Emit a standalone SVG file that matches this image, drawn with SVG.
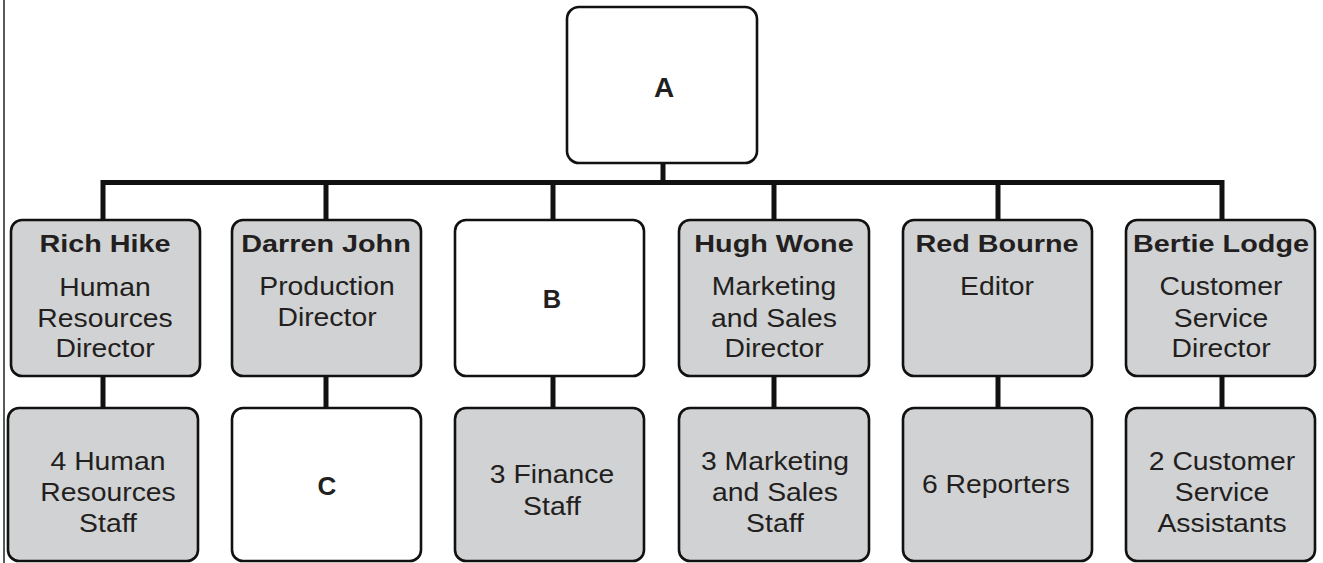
<svg xmlns="http://www.w3.org/2000/svg" width="1323" height="563" viewBox="0 0 1323 563">
<style>
.box{stroke:#111;stroke-width:2.6;}
.g{fill:#d1d2d3;}
.w{fill:#fff;}
.conn{stroke:#111;stroke-width:5;fill:none;}
text{font-family:"Liberation Sans",Arial,sans-serif;fill:#231f20;text-anchor:middle;}
.b{font-weight:bold;font-size:24px;}
.r{font-size:26px;}
</style>
<rect x="0" y="0" width="1323" height="563" fill="#fff"/>
<line x1="4" y1="0" x2="4" y2="563" stroke="#222" stroke-width="1.5"/>
<g id="connectors">
<line class="conn" x1="663" y1="163" x2="663" y2="182.5"/>
<polyline class="conn" points="103,220 103,182.5 1222,182.5 1222,220"/>
<line class="conn" x1="326" y1="182.5" x2="326" y2="220"/>
<line class="conn" x1="553" y1="182.5" x2="553" y2="220"/>
<line class="conn" x1="774" y1="182.5" x2="774" y2="220"/>
<line class="conn" x1="998" y1="182.5" x2="998" y2="220"/>
<line class="conn" x1="103" y1="376" x2="103" y2="408"/>
<line class="conn" x1="326" y1="376" x2="326" y2="408"/>
<line class="conn" x1="553" y1="376" x2="553" y2="408"/>
<line class="conn" x1="774" y1="376" x2="774" y2="408"/>
<line class="conn" x1="998" y1="376" x2="998" y2="408"/>
<line class="conn" x1="1222" y1="376" x2="1222" y2="408"/>
</g>
<g id="nodeA">
<rect class="box w" x="567" y="7" width="190" height="156" rx="12"/>
<text class="b" x="664" y="97" style="font-size:28px">A</text>
</g>
<g id="richHike">
<rect class="box g" x="11" y="220" width="189" height="156" rx="11"/>
<g transform="translate(105,0) scale(1.2,1)"><text class="b" x="0" y="252">Rich Hike</text></g>
<g transform="translate(105,0) scale(1.09,1)">
<text class="r" x="0" y="296">Human</text>
<text class="r" x="0" y="327">Resources</text>
<text class="r" x="0" y="357">Director</text>
</g>
</g>
<g id="darrenJohn">
<rect class="box g" x="232" y="220" width="189" height="156" rx="11"/>
<g transform="translate(326,0) scale(1.2,1)"><text class="b" x="0" y="252">Darren John</text></g>
<g transform="translate(327,0) scale(1.09,1)">
<text class="r" x="0" y="295">Production</text>
<text class="r" x="0" y="326">Director</text>
</g>
</g>
<g id="nodeB">
<rect class="box w" x="455" y="220" width="189" height="156" rx="11"/>
<text class="b" x="552" y="308" style="font-size:25.5px">B</text>
</g>
<g id="hughWone">
<rect class="box g" x="679" y="220" width="190" height="156" rx="11"/>
<g transform="translate(774,0) scale(1.2,1)"><text class="b" x="0" y="252">Hugh Wone</text></g>
<g transform="translate(774,0) scale(1.09,1)">
<text class="r" x="0" y="295">Marketing</text>
<text class="r" x="0" y="327">and Sales</text>
<text class="r" x="0" y="357">Director</text>
</g>
</g>
<g id="redBourne">
<rect class="box g" x="903" y="220" width="189" height="156" rx="11"/>
<g transform="translate(997,0) scale(1.2,1)"><text class="b" x="0" y="252">Red Bourne</text></g>
<g transform="translate(997,0) scale(1.09,1)"><text class="r" x="0" y="295">Editor</text></g>
</g>
<g id="bertieLodge">
<rect class="box g" x="1126" y="220" width="189" height="156" rx="11"/>
<g transform="translate(1221,0) scale(1.2,1)"><text class="b" x="0" y="252">Bertie Lodge</text></g>
<g transform="translate(1221,0) scale(1.09,1)">
<text class="r" x="0" y="295">Customer</text>
<text class="r" x="0" y="327">Service</text>
<text class="r" x="0" y="357">Director</text>
</g>
</g>
<g id="hrStaff">
<rect class="box g" x="8" y="408" width="190" height="153" rx="11"/>
<g transform="translate(108,0) scale(1.09,1)">
<text class="r" x="0" y="470">4 Human</text>
<text class="r" x="0" y="501">Resources</text>
<text class="r" x="0" y="532">Staff</text>
</g>
</g>
<g id="nodeC">
<rect class="box w" x="232" y="408" width="189" height="153" rx="11"/>
<text class="b" x="327" y="495" style="font-size:26px">C</text>
</g>
<g id="financeStaff">
<rect class="box g" x="455" y="408" width="189" height="153" rx="11"/>
<g transform="translate(552,0) scale(1.09,1)">
<text class="r" x="0" y="483">3 Finance</text>
<text class="r" x="0" y="515">Staff</text>
</g>
</g>
<g id="marketingStaff">
<rect class="box g" x="679" y="408" width="190" height="153" rx="11"/>
<g transform="translate(775,0) scale(1.09,1)">
<text class="r" x="0" y="470">3 Marketing</text>
<text class="r" x="0" y="501">and Sales</text>
<text class="r" x="0" y="532">Staff</text>
</g>
</g>
<g id="reporters">
<rect class="box g" x="903" y="408" width="189" height="153" rx="11"/>
<g transform="translate(996,0) scale(1.09,1)"><text class="r" x="0" y="493">6 Reporters</text></g>
</g>
<g id="csAssistants">
<rect class="box g" x="1126" y="408" width="189" height="153" rx="11"/>
<g transform="translate(1222,0) scale(1.09,1)">
<text class="r" x="0" y="470">2 Customer</text>
<text class="r" x="0" y="501">Service</text>
<text class="r" x="0" y="532">Assistants</text>
</g>
</g>
</svg>
